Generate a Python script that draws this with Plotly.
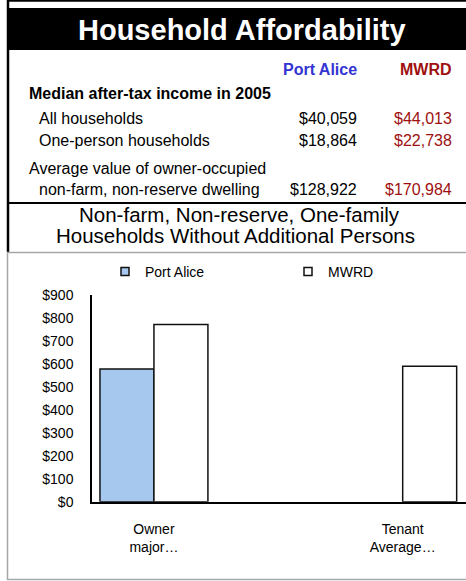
import plotly.graph_objects as go

W, H = 466, 581

# ---- data ----
title_text = "Household Affordability"
area_names = ["Port Alice", "MWRD"]
income_heading = "Median after-tax income in 2005"
income_rows = ["All households", "One-person households"]
income_port_alice = ["$40,059", "$18,864"]
income_mwrd = ["$44,013", "$22,738"]
dwelling_heading = "Average value of owner-occupied"
dwelling_row = "non-farm, non-reserve dwelling"
dwelling_port_alice = "$128,922"
dwelling_mwrd = "$170,984"
chart_title = ["Non-farm, Non-reserve, One-family", "Households Without Additional Persons"]

categories = ["Owner<br>major…", "Tenant<br>Average…"]
port_alice_cost = [578, None]
mwrd_cost = [772, 590]
y_ticks = [0, 100, 200, 300, 400, 500, 600, 700, 800, 900]
y_tick_labels = [f"${v}" for v in y_ticks]

FONT = "Arial, 'Liberation Sans', sans-serif"
BLUE_TXT = "#3434D2"
RED_TXT = "#9E1010"
BAR_BLUE = "#A7C8EE"

def px(x):
    return x / W

def py(y):
    return 1 - y / H

fig = go.Figure()
fig.add_trace(go.Bar(x=categories, y=port_alice_cost, name=area_names[0],
                     marker=dict(color=BAR_BLUE, line=dict(color="#111111", width=1.5)),
                     showlegend=False))
fig.add_trace(go.Bar(x=categories, y=mwrd_cost, name=area_names[1],
                     marker=dict(color="white", line=dict(color="#111111", width=1.5)),
                     showlegend=False))
# legend entries
for name, col in zip(area_names, [BAR_BLUE, "white"]):
    fig.add_trace(go.Scatter(x=[None], y=[None], mode="markers", name=name,
                             marker=dict(symbol="square", size=8, color=col,
                                         line=dict(color="#111111", width=1.5))))

shapes = []
shapes.append(dict(type="line", xref="paper", yref="paper", x0=px(7), x1=px(467), y0=py(0.8), y1=py(0.8),
                   line=dict(color="black", width=2)))
shapes.append(dict(type="rect", xref="paper", yref="paper", x0=px(7), x1=px(467), y0=py(8), y1=py(50),
                   fillcolor="black", line=dict(width=0)))
shapes.append(dict(type="line", xref="paper", yref="paper", x0=px(8), x1=px(8), y0=py(0), y1=py(252),
                   line=dict(color="black", width=2.5)))
shapes.append(dict(type="line", xref="paper", yref="paper", x0=px(7), x1=px(467), y0=py(203), y1=py(203),
                   line=dict(color="black", width=2)))
shapes.append(dict(type="rect", xref="paper", yref="paper", x0=px(7.5), x1=px(475), y0=py(252.5), y1=py(579.5),
                   line=dict(color="#A6A6A6", width=1.5)))

ann = []
def add_text(text, x, y, size, color="black", xanchor="left", bold=False):
    t = f"<b>{text}</b>" if bold else text
    ann.append(dict(text=t, x=px(x), y=py(y), xref="paper", yref="paper", xanchor=xanchor,
                    yanchor="middle", showarrow=False, font=dict(family=FONT, size=size, color=color)))

add_text(title_text, 242, 30, 29, color="white", xanchor="center", bold=True)
add_text(area_names[0], 359, 70, 16, color=BLUE_TXT, xanchor="right", bold=True)
add_text(area_names[1], 454, 70, 16, color=RED_TXT, xanchor="right", bold=True)
add_text(income_heading, 27, 94, 16, bold=True)
for i, (lab, a, b) in enumerate(zip(income_rows, income_port_alice, income_mwrd)):
    yy = 118 + 22 * i
    add_text(lab, 37, yy, 16)
    add_text(a, 359, yy, 16, xanchor="right")
    add_text(b, 454, yy, 16, color=RED_TXT, xanchor="right")
add_text(dwelling_heading, 27, 168, 16)
add_text(dwelling_row, 37, 189, 16)
add_text(dwelling_port_alice, 359, 189, 16, xanchor="right")
add_text(dwelling_mwrd, 454, 189, 16, color=RED_TXT, xanchor="right")
add_text(chart_title[0], 239, 214.5, 20.5, xanchor="center")
add_text(chart_title[1], 235, 235.5, 20.5, xanchor="center")

fig.update_layout(
    width=W, height=H,
    margin=dict(l=0, r=0, t=0, b=0, autoexpand=False),
    paper_bgcolor="white", plot_bgcolor="white",
    template="none",
    barmode="group", bargap=0.566, bargroupgap=0,
    shapes=shapes, annotations=ann,
    font=dict(family=FONT, size=14, color="black"),
    showlegend=True,
    legend=dict(orientation="h", x=px(105), xanchor="left", y=py(256), yanchor="top",
                entrywidth=138, font=dict(family=FONT, size=14, color="black"),
                bgcolor="rgba(0,0,0,0)", borderwidth=0),
    xaxis=dict(domain=[px(92), 1], range=[-0.249, 1.2545], type="category",
               showline=True, linecolor="black", linewidth=1.5, showgrid=False,
               ticks="", ticklabelstandoff=14, automargin=False,
               tickfont=dict(family=FONT, size=14, color="black")),
    yaxis=dict(domain=[1 - 501.7 / H, 1 - 295 / H], range=[0, 900], tickmode="array",
               tickvals=y_ticks, ticktext=y_tick_labels, showline=True, linecolor="black",
               linewidth=1.5, showgrid=False, zeroline=False, ticks="", ticklabelstandoff=14,
               automargin=False, tickfont=dict(family=FONT, size=14, color="black")),
)

fig.write_html("out.html", config={"displayModeBar": False},
               post_script="document.body.style.margin='0';")
